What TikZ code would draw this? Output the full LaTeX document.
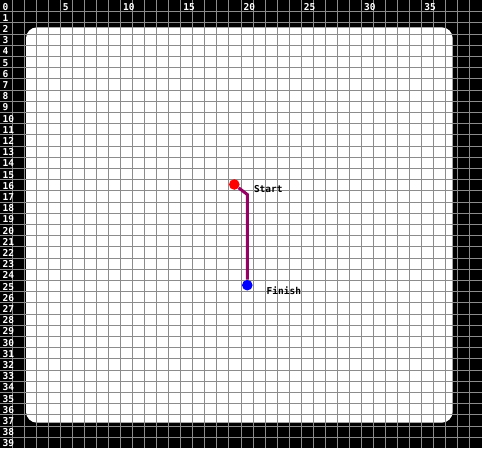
\documentclass[tikz,border=0pt]{standalone}
\usepackage{fontspec}
\setmonofont{DejaVu Sans Mono}
\definecolor{pathpurple}{RGB}{150,0,100}
\definecolor{gridgray}{RGB}{140,140,140}
\begin{document}
\begin{tikzpicture}[x=1pt,y=-1pt,
  gridline/.style={draw=gridgray, line width=1pt},
  lbl/.style={font=\ttfamily\bfseries\fontsize{9.5}{9.5}\selectfont, inner sep=0pt, anchor=base west},
  dot/.style={circle, inner sep=0pt, minimum size=10.6pt},
  route/.style={draw=pathpurple, line width=3pt}]
\useasboundingbox (0,0) rectangle (482,448);
\fill[black] (0,0) rectangle (482,448);
\fill[white, rounded corners=11pt] (26,27.3) rectangle (452.7,422.7);
\foreach \i in {1,...,39} {
  \draw[gridline] ({12.05*\i},0) -- ({12.05*\i},448);
  \draw[gridline] (0,{11.2*\i+0.5}) -- (482,{11.2*\i+0.5});
}
\foreach \r in {0,...,39} {
  \node[lbl, text=white] (row\r) at (2.4,{11.2*\r+10}) {\r};
}
\foreach \c in {5,10,...,35} {
  \node[lbl, text=white] (col\c) at ({12.05*\c+2.4},10) {\c};
}
\node[dot, fill=red] (start) at (234.3,184.5) {};
\node[dot, fill=blue] (finish) at (247.3,285.2) {};
\coordinate (bend) at (247.3,194.5);
\draw[route] (start) -- (bend) -- (finish);
\node[lbl, text=black] (startlbl) at (253.8,192.4) {Start};
\node[lbl, text=black] (finishlbl) at (266.5,294.4) {Finish};
\end{tikzpicture}
\end{document}
